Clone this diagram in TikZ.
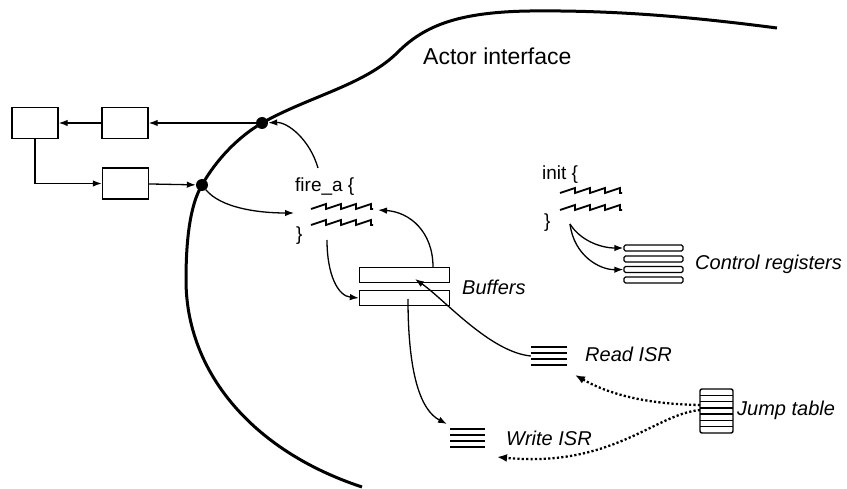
\documentclass[tikz,border=0pt]{standalone}
\usepackage{fontspec}
\setmainfont{Liberation Sans}
\usetikzlibrary{arrows.meta,decorations.pathmorphing,calc}
\begin{document}
\begin{tikzpicture}[x=1pt,y=-1pt,
  box/.style={draw, line width=1.4pt, minimum width=46pt, minimum height=31pt, inner sep=0},
  conn/.style={line width=1.3pt, -{Latex[length=9pt,width=6.5pt]}},
  dotarr/.style={line width=2.3pt, dash pattern=on 2.2pt off 2.2pt, -{Latex[length=10pt,width=8pt]}},
  port/.style={circle, fill, inner sep=0, minimum size=12pt},
  lbl/.style={font=\fontsize{20}{24}\selectfont\itshape, anchor=base west, inner sep=0},
  code/.style={font=\fontsize{19}{22}\selectfont, anchor=base west, inner sep=0},
  buf/.style={draw, line width=1.3pt, minimum width=90pt, minimum height=15pt, inner sep=0},
  creg/.style={draw, rounded corners=1.5pt, line width=1.3pt, minimum width=59pt, minimum height=6pt, inner sep=0},
  icon/.style={inner sep=0, minimum width=36pt, minimum height=20pt},
  squig/.style={line width=1.8pt, decorate, decoration={saw, segment length=15pt, amplitude=5pt}},
  iface/.style={line width=3pt}
]
\useasboundingbox (0,0) rectangle (847,489);

% actor interface boundary
\draw[iface] (362,487) .. controls (250,450) and (186,370) .. (186,280)
  .. controls (186,240) and (190,205) .. (202,185)
  .. controls (216,160) and (238,137) .. (262,123)
  .. controls (310,96) and (365,85) .. (398,52)
  .. controls (425,25) and (460,12) .. (530,11)
  .. controls (620,10) and (700,18) .. (777,28);
\node[lbl, font=\fontsize{23}{26}\selectfont] (ai) at (423,65) {Actor interface};

% ports
\node[port] (pt) at (262,123) {};
\node[port] (pb) at (202,185) {};

% outer boxes
\node[box] (b1) at (35,123) {};
\node[box] (b2) at (125,123) {};
\node[box] (b3) at (125.5,183.5) {};
\draw[conn] (pt) -- (b2);
\draw[conn] (b2) -- (b1);
\draw[conn] (b1.south) |- (b3.west);
\draw[conn] (b3) -- (pb);

% fire_a code
\node[code] (fire) at (295,192) {fire\_a \{};
\node[code] (fclose) at (296,241) {\}};
\coordinate (fs1w) at (311,209);
\coordinate (fs1e) at (373,209);
\coordinate (fs2w) at (311,225);
\coordinate (fs2e) at (373,225);
\draw[squig] (fs1w) -- (fs1e);
\draw[squig] (fs2w) -- (fs2e);
\coordinate (ftop) at (318,168);
\coordinate (fin) at (294,213);
\coordinate (fbot) at (327,240);
\coordinate (fret) at (378,210);
\draw[conn] (ftop) .. controls (310,140) and (288,122) .. (pt);
\draw[conn] (pb) .. controls (220,207) and (255,213) .. (fin);

% buffers
\node[buf] (buf1) at (404.5,275) {};
\node[buf] (buf2) at (404.5,298) {};
\node[lbl] (bufl) at (462,295) {Buffers};
\coordinate (b1top) at (433,267);
\coordinate (rin) at (415,279);
\coordinate (wout) at (408,299);
\draw[conn] (fbot) .. controls (327,275) and (338,296) .. (buf2.west);
\draw[conn] (b1top) .. controls (433,232) and (410,212) .. (fret);

% init code
\node[code] (init) at (542,180) {init \{};
\node[code] (iclose) at (544,228) {\}};
\draw[squig] (560,193) -- (622,193);
\draw[squig] (560,210) -- (622,210);
\coordinate (ia) at (570,224);

% control registers
\node[creg] (cr1) at (653.5,248) {};
\node[creg] (cr2) at (653.5,259) {};
\node[creg] (cr3) at (653.5,269.5) {};
\node[creg] (cr4) at (653.5,280) {};
\node[lbl] (crl) at (695,270) {Control registers};
\draw[conn] (ia) .. controls (580,240) and (600,248) .. (cr1.west);
\draw[conn] (ia) .. controls (574,256) and (600,270) .. (cr3.west);

% Read ISR
\node[icon] (risr) at (549,356) {};
\foreach \yy in {347,353,359,365} \draw[line width=1.6pt] (531,\yy) -- (567,\yy);
\node[lbl] (rl) at (585,362) {Read ISR};
\draw[conn] (risr.west) .. controls (490,352) and (445,300) .. (rin);

% Write ISR
\node[icon] (wisr) at (467.5,438) {};
\foreach \yy in {429,435,441,447} \draw[line width=1.6pt] (450,\yy) -- (485,\yy);
\node[lbl] (wl) at (506,445) {Write ISR};
\coordinate (wtipin) at (447,424);
\draw[conn] (wout) .. controls (408,372) and (420,410) .. (wtipin);

% Jump table
\node[draw, line width=1.4pt, rounded corners=2pt, minimum width=33pt, minimum height=44pt, inner sep=0] (jt) at (716.5,411) {};
\foreach \k in {1,...,6} \draw[line width=1.3pt] (700,{389+44*\k/7}) -- (733,{389+44*\k/7});
\node[lbl] (jl) at (737,415) {Jump table};
\coordinate (j1) at (700,405);
\coordinate (j2) at (700,410);
\coordinate (rtip) at (575,375);
\coordinate (wtip) at (497,457);
\draw[dotarr] (j1) .. controls (640,404) and (605,392) .. (rtip);
\draw[dotarr] (j2) .. controls (655,414) and (612,468) .. (wtip);
\end{tikzpicture}
\end{document}
